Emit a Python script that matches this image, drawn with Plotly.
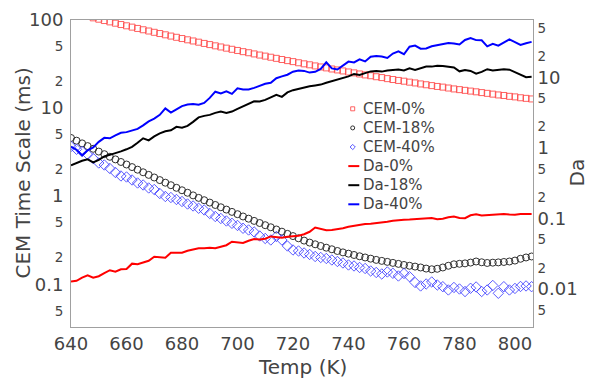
import plotly.graph_objects as go

# Temperature grid (K)
temp = list(range(640, 808, 2))

# CEM time scale (ms), left axis
cem_0 = [122.1, 117.8, 113.6, 109.6, 105.8, 102.1, 98.6, 95.2, 92.0, 88.8,
         85.9, 83.0, 80.2, 77.5, 75.0, 72.5, 70.2, 67.9, 65.7, 63.6,
         61.6, 59.6, 57.8, 56.0, 54.2, 52.6, 50.9, 49.4, 47.9, 46.5,
         45.1, 43.7, 42.5, 41.2, 40.0, 38.9, 37.8, 36.7, 35.6, 34.6,
         33.7, 32.7, 31.8, 31.0, 30.1, 29.3, 28.6, 27.8, 27.1, 26.4,
         25.7, 25.1, 24.4, 23.8, 23.3, 22.7, 22.2, 21.6, 21.1, 20.6,
         20.2, 19.7, 19.3, 18.8, 18.4, 18.0, 17.6, 17.3, 16.9, 16.5,
         16.2, 15.9, 15.6, 15.3, 15.0, 14.7, 14.4, 14.1, 13.9, 13.6,
         13.4, 13.1, 12.9, 12.7]

cem_18 = [4.578, 4.266, 3.975, 3.704, 3.451, 3.208, 2.998, 2.801, 2.617, 2.445,
          2.289, 2.139, 1.999, 1.868, 1.745, 1.631, 1.523, 1.423, 1.333, 1.245,
          1.167, 1.093, 1.021, 0.9565, 0.9006, 0.8459, 0.7946, 0.7482, 0.7046, 0.6635,
          0.6247, 0.5883, 0.5554, 0.5243, 0.4961, 0.4686, 0.4436, 0.4188, 0.3955, 0.3734,
          0.3525, 0.3328, 0.3133, 0.2974, 0.2844, 0.2720, 0.2603, 0.2496, 0.2388, 0.2302,
          0.2225, 0.2151, 0.2079, 0.2015, 0.1953, 0.1892, 0.1843, 0.1796, 0.1749, 0.1704,
          0.1656, 0.1622, 0.1588, 0.1551, 0.1507, 0.1480, 0.1499, 0.1551, 0.1622, 0.1686,
          0.1708, 0.1726, 0.1763, 0.1814, 0.1777, 0.1745, 0.1759, 0.1772, 0.1791, 0.1814,
          0.1858, 0.1948, 0.2015, 0.2068]

cem_40 = [3.666, 3.407, 3.216, 2.974, 2.679, 2.382, 2.260, 2.063, 1.858, 1.696,
          1.652, 1.527, 1.412, 1.340, 1.239, 1.191, 1.073, 0.9922, 0.9665, 0.9173,
          0.8707, 0.8154, 0.7740, 0.7290, 0.6973, 0.6364, 0.5883, 0.5583, 0.5230, 0.4923,
          0.4650, 0.4322, 0.4134, 0.3924, 0.3534, 0.3311, 0.3183, 0.3488, 0.3183, 0.2720,
          0.2451, 0.2388, 0.2266, 0.2180, 0.2068, 0.2015, 0.1963, 0.1887, 0.1814, 0.1745,
          0.1656, 0.1613, 0.1551, 0.1511, 0.1416, 0.1361, 0.1309, 0.1379, 0.1333, 0.1242,
          0.1326, 0.1220, 0.1048, 0.0957, 0.1008, 0.1062, 0.0982, 0.0939, 0.0862, 0.0920,
          0.0884, 0.0828, 0.0901, 0.0932, 0.0828, 0.0862, 0.0969, 0.0790, 0.0939, 0.0862,
          0.0897, 0.0944, 0.0957, 0.0939]

# Damkohler number, right axis
da_0 = [0.0128, 0.0131, 0.0145, 0.0157, 0.0145, 0.0152, 0.0168, 0.0185, 0.0176, 0.0191,
        0.0192, 0.0229, 0.0225, 0.0236, 0.0252, 0.0287, 0.0283, 0.0278, 0.0327, 0.0327,
        0.0327, 0.0349, 0.0361, 0.0379, 0.0379, 0.0385, 0.0379, 0.0398, 0.0418, 0.0468,
        0.0461, 0.0449, 0.0484, 0.0511, 0.0503, 0.0516, 0.0557, 0.0542, 0.0533, 0.0551,
        0.0560, 0.0569, 0.0598, 0.0648, 0.0744, 0.0715, 0.0681, 0.0685, 0.0701, 0.0727,
        0.0763, 0.0788, 0.0820, 0.0833, 0.0841, 0.0855, 0.0869, 0.0898, 0.0928, 0.0952,
        0.0959, 0.0965, 0.0974, 0.0984, 0.0997, 0.1013, 0.0974, 0.0990, 0.1040, 0.1067,
        0.1016, 0.1007, 0.1110, 0.1147, 0.1099, 0.1110, 0.1136, 0.1158, 0.1154, 0.1136,
        0.1128, 0.1154, 0.1165, 0.1154]

da_18 = [0.566, 0.613, 0.655, 0.688, 0.624, 0.677, 0.758, 0.796, 0.836, 0.892,
         0.953, 1.033, 1.177, 1.363, 1.277, 1.455, 1.604, 1.712, 1.768, 1.982,
         1.931, 2.047, 2.332, 2.700, 2.836, 2.930, 3.126, 3.262, 3.126, 3.262,
         3.561, 3.838, 4.193, 4.546, 4.517, 4.775, 5.181, 5.619, 5.265, 6.095,
         6.550, 6.877, 7.244, 7.457, 7.655, 7.856, 8.360, 8.779, 9.218, 9.680,
         10.26, 11.13, 10.78, 11.43, 12.08, 12.28, 12.00, 12.48, 12.77, 12.89,
         12.48, 13.32, 12.68, 13.54, 14.12, 14.12, 14.54, 14.45, 14.08, 13.72,
         12.12, 12.68, 12.28, 11.24, 11.89, 12.98, 12.44, 12.68, 12.98, 12.77,
         11.73, 10.71, 10.00, 10.16]

da_40 = [1.043, 0.937, 0.783, 0.922, 1.016, 1.216, 1.385, 1.363, 1.502, 1.631,
         1.668, 1.739, 1.857, 2.081, 2.370, 2.597, 2.930, 3.620, 3.157, 3.505,
         3.901, 4.110, 4.164, 4.083, 4.330, 5.097, 6.236, 5.901, 6.298, 5.806,
         6.945, 6.722, 6.699, 7.059, 7.509, 8.066, 8.360, 9.680, 10.26, 10.85,
         11.96, 12.40, 12.28, 11.62, 11.92, 13.10, 16.24, 13.32, 12.85, 14.50,
         16.62, 16.19, 17.91, 16.73, 19.50, 20.01, 19.62, 18.75, 21.64, 23.17,
         21.15, 27.00, 27.99, 25.38, 25.46, 27.36, 28.17, 29.30, 30.56, 30.07,
         29.01, 33.70, 35.96, 33.49, 33.27, 27.36, 29.77, 27.90, 30.56, 34.24,
         31.37, 28.63, 30.27, 31.67]

FONT = "DejaVu Sans"
TEXT = "#444444"
FRAME = "#a0a0a0"
SQ_COLOR = "rgba(255,70,70,0.85)"
CI_COLOR = "#303030"
DI_COLOR = "rgba(60,60,255,0.85)"

# plot box in pixels
W, H = 590, 379
L, R, T, B = 71, 533, 20, 327


def px(x):
    return (x - L) / (R - L)


def py(y):
    return (B - y) / (B - T)


fig = go.Figure()

fig.add_trace(go.Scatter(
    x=temp, y=cem_0, name="CEM-0%", mode="markers",
    marker=dict(symbol="square-open", size=6, color=SQ_COLOR, line=dict(width=1)),
))
fig.add_trace(go.Scatter(
    x=temp, y=cem_18, name="CEM-18%", mode="markers",
    marker=dict(symbol="circle-open", size=7, color=CI_COLOR, line=dict(width=1)),
))
fig.add_trace(go.Scatter(
    x=temp, y=cem_40, name="CEM-40%", mode="markers",
    marker=dict(symbol="diamond-open", size=8, color=DI_COLOR, line=dict(width=1)),
))
fig.add_trace(go.Scatter(
    x=temp, y=da_0, name="Da-0%", mode="lines", yaxis="y2",
    line=dict(color="#ff0000", width=2),
))
fig.add_trace(go.Scatter(
    x=temp, y=da_18, name="Da-18%", mode="lines", yaxis="y2",
    line=dict(color="#000000", width=2),
))
fig.add_trace(go.Scatter(
    x=temp, y=da_40, name="Da-40%", mode="lines", yaxis="y2",
    line=dict(color="#0000ff", width=2),
))

# compact in-plot key: small glyphs, short line samples
KEY_X, KEY_TXT, KEY_Y0, KEY_DY = 352.7, 360.5, 108.8, 19.1
shapes = []
annotations = []
entries = [("CEM-0%", "square"), ("CEM-18%", "circle"), ("CEM-40%", "diamond"),
           ("Da-0%", "#ff0000"), ("Da-18%", "#000000"), ("Da-40%", "#0000ff")]
for i, (label, glyph) in enumerate(entries):
    yc = KEY_Y0 + i * KEY_DY
    if glyph == "square":
        shapes.append(dict(type="rect", xref="paper", yref="paper",
                           x0=px(KEY_X - 2), x1=px(KEY_X + 2), y0=py(yc + 2), y1=py(yc - 2),
                           line=dict(color=SQ_COLOR, width=1)))
    elif glyph == "circle":
        shapes.append(dict(type="circle", xref="paper", yref="paper",
                           x0=px(KEY_X - 2), x1=px(KEY_X + 2), y0=py(yc + 2), y1=py(yc - 2),
                           line=dict(color=CI_COLOR, width=1)))
    elif glyph == "diamond":
        d = 2.6
        path = "M {} {} L {} {} L {} {} L {} {} Z".format(
            px(KEY_X - d), py(yc), px(KEY_X), py(yc - d),
            px(KEY_X + d), py(yc), px(KEY_X), py(yc + d))
        shapes.append(dict(type="path", xref="paper", yref="paper", path=path,
                           line=dict(color=DI_COLOR, width=1)))
    else:
        shapes.append(dict(type="line", xref="paper", yref="paper",
                           x0=px(348.3), x1=px(359.3), y0=py(yc), y1=py(yc),
                           line=dict(color=glyph, width=2)))
    annotations.append(dict(text=label, xref="paper", yref="paper",
                            x=px(KEY_TXT), y=py(yc), xanchor="left", yanchor="middle",
                            showarrow=False, font=dict(size=15, color=TEXT)))

# axis titles
annotations += [
    dict(text="CEM Time Scale (ms)", xref="paper", yref="paper",
         x=px(22), y=py((T + B) / 2), textangle=-90, showarrow=False,
         xanchor="center", yanchor="middle", font=dict(size=20, color=TEXT)),
    dict(text="Temp (K)", xref="paper", yref="paper",
         x=0.5, y=py(366.5), showarrow=False,
         xanchor="center", yanchor="middle", font=dict(size=20, color=TEXT)),
    dict(text="Da", xref="paper", yref="paper",
         x=px(576.5), y=py(173), textangle=-90, showarrow=False,
         xanchor="center", yanchor="middle", font=dict(size=20, color=TEXT)),
]

fig.update_layout(
    width=W, height=H,
    margin=dict(l=L, r=W - R, t=T, b=H - B, autoexpand=False),
    paper_bgcolor="white", plot_bgcolor="white",
    font=dict(family=FONT, color=TEXT),
    showlegend=False,
    shapes=shapes,
    annotations=annotations,
    xaxis=dict(
        range=[640, 806.5], dtick=20, tick0=640, automargin=False,
        showgrid=False, zeroline=False,
        showline=True, linecolor=FRAME, linewidth=1, mirror=True,
        ticks="", tickfont=dict(size=18, color=TEXT), ticklabelstandoff=0,
    ),
    yaxis=dict(
        type="log", range=[-1.485, 2], dtick="D2", automargin=False,
        showgrid=False, zeroline=False,
        showline=True, linecolor=FRAME, linewidth=1, mirror=True,
        ticks="", tickfont=dict(size=18, color=TEXT), ticklabelstandoff=3,
    ),
    yaxis2=dict(
        type="log", range=[-2.537, 1.81], dtick="D2", automargin=False,
        overlaying="y", side="right",
        showgrid=False, zeroline=False,
        showline=True, linecolor=FRAME, linewidth=1,
        ticks="", tickfont=dict(size=18, color=TEXT), ticklabelstandoff=0,
    ),
)

fig.write_html("out.html")
